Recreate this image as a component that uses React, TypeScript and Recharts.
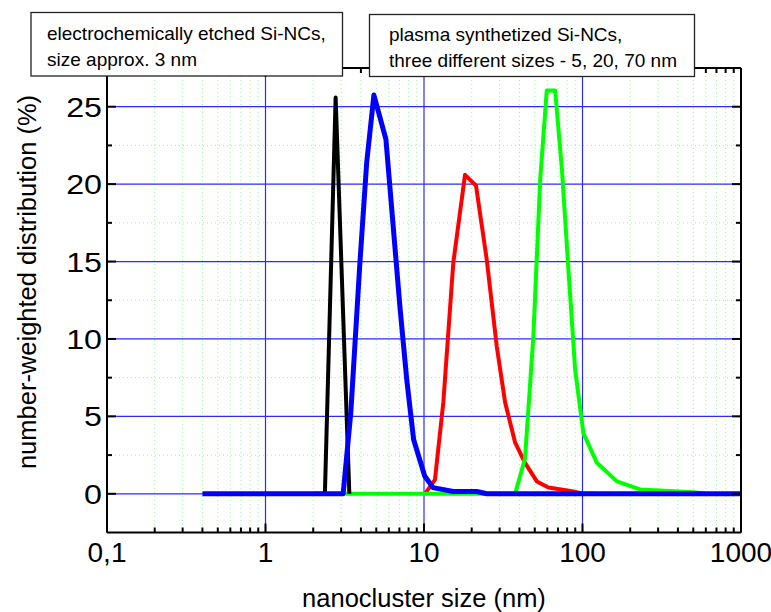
import React from 'react';
import { LineChart, Line, XAxis, YAxis, CartesianGrid } from 'recharts';

// ---- data ----
const blackSizes = [2.0, 2.37, 2.77, 3.38];
const blackValues = [0, 0, 25.6, 0];

const blueSizes = [0.4, 3.09, 3.45, 3.94, 4.35, 4.83, 5.75, 7.06, 7.78, 8.6, 10.1, 11.4, 15.3, 21.5, 24.9, 1000];
const blueValues = [0, 0, 5.2, 14.9, 21.4, 25.75, 22.9, 12.0, 7.4, 3.5, 1.15, 0.4, 0.15, 0.15, 0, 0];

const redSizes = [10.14, 11.73, 13.24, 15.3, 18.15, 21.3, 24.9, 28.8, 32.5, 37.6, 43.4, 51.5, 61, 87.7, 100, 120];
const redValues = [0, 0.92, 5.9, 14.9, 20.6, 19.9, 15.1, 9.5, 5.9, 3.3, 2.0, 0.8, 0.4, 0.15, 0, 0];

const greenSizes = [3.2, 37.6, 43.4, 49.0, 54.1, 59.5, 67.2, 74.1, 81.5, 89.9, 101.4, 123.3, 164.8, 231, 502, 600];
const greenValues = [0, 0, 2.3, 10.2, 20.3, 26.05, 26.05, 21.0, 14.5, 8.0, 3.9, 2.0, 0.8, 0.28, 0.1, 0];

const xMajor = [0.1, 1, 10, 100, 1000];
const xLabels = ['0,1', '1', '10', '100', '1000'];
const xMinor = [
  0.2, 0.3, 0.4, 0.5, 0.6, 0.7, 0.8, 0.9,
  2, 3, 4, 5, 6, 7, 8, 9,
  20, 30, 40, 50, 60, 70, 80, 90,
  200, 300, 400, 500, 600, 700, 800, 900,
];
const yMajor = [0, 5, 10, 15, 20, 25];
const yLabels = ['0', '5', '10', '15', '20', '25'];
const yMinor = [2.5, 7.5, 12.5, 17.5, 22.5];

const xTitle = 'nanocluster size (nm)';
const yTitle = 'number-weighted distribution (%)';
const box1Lines = ['electrochemically etched Si-NCs,', 'size approx. 3 nm'];
const box2Lines = ['plasma synthetized Si-NCs,', 'three different sizes - 5, 20, 70 nm'];

const zip = (xs: number[], ys: number[]) => xs.map((x, i) => ({ x, y: ys[i] }));
const blackData = zip(blackSizes, blackValues);
const blueData = zip(blueSizes, blueValues);
const redData = zip(redSizes, redValues);
const greenData = zip(greenSizes, greenValues);

const xTicks = [...xMajor, ...xMinor];
const yTicks = [...yMajor, ...yMinor];

const FONT = "'Liberation Sans', Arial, Helvetica, sans-serif";
const TICK_FS = 28;
const MAJ = 9;
const MIN = 5;

const BottomTick = (props: any) => {
  const { x, y, payload } = props;
  const idx = xMajor.indexOf(payload.value);
  const major = idx >= 0;
  return (
    <g>
      <line x1={x} y1={y} x2={x} y2={y - (major ? MAJ : MIN)} stroke="#000" strokeWidth={2} />
      {major && (
        <text x={x} y={y + 29} textAnchor="middle" fontSize={TICK_FS} fontFamily={FONT} fill="#000">
          {xLabels[idx]}
        </text>
      )}
    </g>
  );
};

const TopTick = (props: any) => {
  const { x, y, payload } = props;
  const major = xMajor.indexOf(payload.value) >= 0;
  return <line x1={x} y1={y} x2={x} y2={y + (major ? MAJ : MIN)} stroke="#000" strokeWidth={2} />;
};

const LeftTick = (props: any) => {
  const { x, y, payload } = props;
  const idx = yMajor.indexOf(payload.value);
  const major = idx >= 0;
  return (
    <g>
      <line x1={x} y1={y} x2={x + (major ? MAJ : MIN)} y2={y} stroke="#000" strokeWidth={2} />
      {major && (
        <g transform={`translate(${x - 5},${y}) scale(1.15,1)`}>
          <text x={0} y={0} dy="0.36em" textAnchor="end" fontSize={TICK_FS} fontFamily={FONT} fill="#000">
            {yLabels[idx]}
          </text>
        </g>
      )}
    </g>
  );
};

const RightTick = (props: any) => {
  const { x, y, payload } = props;
  const major = yMajor.indexOf(payload.value) >= 0;
  return <line x1={x} y1={y} x2={x - (major ? MAJ : MIN)} y2={y} stroke="#000" strokeWidth={2} />;
};

const axisLine = { stroke: '#000', strokeWidth: 2 };

export default function App() {
  return (
    <div style={{ position: 'absolute', left: 0, top: 0, width: 771, height: 612, background: '#fff' }}>
      <LineChart
        width={771}
        height={612}
        margin={{ top: 48, right: 10, bottom: 39.5, left: 47 }}
        style={{ position: 'absolute', left: 0, top: 0 }}
      >
        <CartesianGrid
          xAxisId="b"
          yAxisId="l"
          verticalValues={xMinor}
          horizontalValues={yMinor}
          stroke="#a6eca6"
          strokeWidth={1}
          strokeDasharray="1 3"
          fill="none"
        />
        <CartesianGrid
          xAxisId="b"
          yAxisId="l"
          verticalValues={[1, 10, 100]}
          horizontalValues={yMajor}
          stroke="#2b2bff"
          strokeWidth={1.2}
          fill="none"
        />
        <XAxis
          xAxisId="b"
          dataKey="x"
          type="number"
          scale="log"
          domain={[0.1, 1000]}
          allowDataOverflow
          ticks={xTicks}
          interval={0}
          tick={<BottomTick />}
          tickLine={false}
          tickSize={0}
          tickMargin={0}
          axisLine={axisLine}
          height={40}
        />
        <XAxis
          xAxisId="t"
          orientation="top"
          dataKey="x"
          type="number"
          scale="log"
          domain={[0.1, 1000]}
          allowDataOverflow
          ticks={xTicks}
          interval={0}
          tick={<TopTick />}
          tickLine={false}
          tickSize={0}
          tickMargin={0}
          axisLine={axisLine}
          height={20}
        />
        <YAxis
          yAxisId="l"
          type="number"
          domain={[-2.5, 27.5]}
          allowDataOverflow
          ticks={yTicks}
          interval={0}
          tick={<LeftTick />}
          tickLine={false}
          tickSize={0}
          tickMargin={0}
          axisLine={axisLine}
          width={60}
        />
        <YAxis
          yAxisId="r"
          orientation="right"
          type="number"
          domain={[-2.5, 27.5]}
          allowDataOverflow
          ticks={yTicks}
          interval={0}
          tick={<RightTick />}
          tickLine={false}
          tickSize={0}
          tickMargin={0}
          axisLine={axisLine}
          width={20}
        />
        <Line xAxisId="b" yAxisId="l" data={redData} dataKey="y" type="linear" stroke="#ff0000" strokeWidth={4} dot={false} isAnimationActive={false} strokeLinejoin="round" />
        <Line xAxisId="b" yAxisId="l" data={greenData} dataKey="y" type="linear" stroke="#00ff00" strokeWidth={4} dot={false} isAnimationActive={false} strokeLinejoin="round" />
        <Line xAxisId="b" yAxisId="l" data={blackData} dataKey="y" type="linear" stroke="#000000" strokeWidth={4} dot={false} isAnimationActive={false} strokeLinejoin="round" />
        <Line xAxisId="b" yAxisId="l" data={blueData} dataKey="y" type="linear" stroke="#0000ff" strokeWidth={5} dot={false} isAnimationActive={false} strokeLinejoin="round" />
      </LineChart>
      <svg width={771} height={612} style={{ position: 'absolute', left: 0, top: 0, pointerEvents: 'none' }}>
        <g fontFamily={FONT} fill="#000">
          <rect x={31} y={12.5} width={311.5} height={63.5} fill="#fff" stroke="#222" strokeWidth={1.3} />
          <text x={47} y={40} fontSize={19}>{box1Lines[0]}</text>
          <text x={47} y={65.5} fontSize={19}>{box1Lines[1]}</text>
          <rect x={369.5} y={14.5} width={325} height={62} fill="#fff" stroke="#222" strokeWidth={1.3} />
          <text x={389} y={41} fontSize={19}>{box2Lines[0]}</text>
          <text x={389} y={66.5} fontSize={19}>{box2Lines[1]}</text>
          <text x={424} y={607} fontSize={25.5} textAnchor="middle">{xTitle}</text>
          <text x={27} y={282} fontSize={25.5} textAnchor="middle" dy="0.36em" transform="rotate(-90 27 282)">{yTitle}</text>
        </g>
      </svg>
    </div>
  );
}
